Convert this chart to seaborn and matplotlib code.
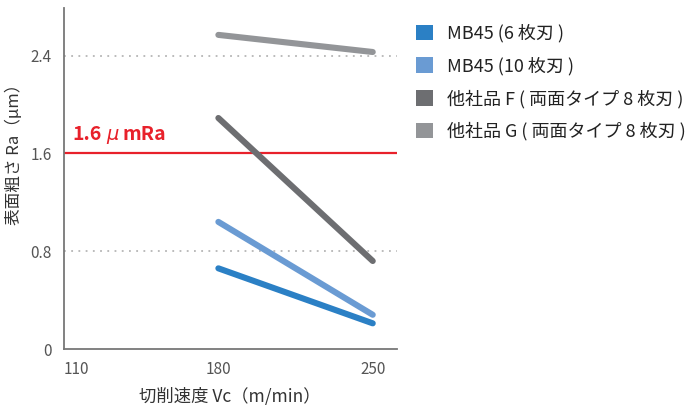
import matplotlib
matplotlib.use("Agg")
import matplotlib.pyplot as plt
import matplotlib.transforms as mtransforms
from matplotlib.patches import Patch
import seaborn as sns
import pandas as pd

# Cutting speed (m/min) and surface roughness Ra (μm) per tool
speeds = [180, 250]
series_names = [
    "MB45 (6 枚刃 )",
    "MB45 (10 枚刃 )",
    "他社品 F ( 両面タイプ 8 枚刃 )",
    "他社品 G ( 両面タイプ 8 枚刃 )",
]
ra_mb45_6 = [0.66, 0.21]
ra_mb45_10 = [1.04, 0.28]
ra_other_f = [1.89, 0.72]
ra_other_g = [2.57, 2.43]
series_colors = ["#2b80c5", "#6a9bd3", "#6d6e71", "#939598"]

y_ticks = [0, 0.8, 1.6, 2.4]
y_tick_labels = ["0", "0.8", "1.6", "2.4"]
x_ticks = [110, 180, 250]
limit_ra = 1.6
limit_parts = ["1.6", "μ", "mRa"]

sns.set_theme(style="white")
plt.rcParams["font.family"] = ["Noto Sans CJK JP", "DejaVu Sans"]

rows = []
for name, vals in zip(series_names, [ra_mb45_6, ra_mb45_10, ra_other_f, ra_other_g]):
    for s, v in zip(speeds, vals):
        rows.append({"Vc": s, "Ra": v, "tool": name})
df = pd.DataFrame(rows)

fig = plt.figure(figsize=(6.94, 4.05), dpi=100)
ax = fig.add_axes([64 / 694, 1 - 349 / 405, (397 - 64) / 694, (349 - 8) / 405])

# reference grid lines
for yv in [0.8, 2.4]:
    ax.axhline(yv, color="#b5b5b5", lw=1.3, ls=(0, (1, 3)), zorder=1)
ax.axhline(limit_ra, color="#e8212b", lw=1.6, zorder=2)

sns.lineplot(data=df, x="Vc", y="Ra", hue="tool", hue_order=series_names,
             palette=series_colors, lw=4.4, legend=False, ax=ax,
             solid_capstyle="round", zorder=3)

ax.set_xlim(110, 261)
ax.set_ylim(0, 2.79)
ax.set_xticks(x_ticks)
ax.set_xticklabels([str(t) for t in x_ticks])
ax.set_yticks(y_ticks)
ax.set_yticklabels(y_tick_labels)
ax.tick_params(axis="both", length=0, labelsize=11, labelcolor="#555555")
ax.tick_params(axis="y", pad=9)
ax.tick_params(axis="x", pad=9)
for lab in ax.get_xticklabels()[:1]:
    lab.set_horizontalalignment("left")

for side in ["top", "right"]:
    ax.spines[side].set_visible(False)
for side in ["left", "bottom"]:
    ax.spines[side].set_color("#777777")
    ax.spines[side].set_linewidth(1.3)

ax.set_xlabel("切削速度 Vc（m/min）", fontsize=12.5, color="#333333")
ax.xaxis.set_label_coords((230 - 64) / 333, -(387 - 349) / 341)
ax.set_ylabel("表面粗さ Ra（μm）", fontsize=12, color="#333333")
ax.yaxis.set_label_coords(-(64 - 23) / 333, (349 - 150) / 341)

# limit label: bold value, light italic μ, bold unit
renderer = fig.canvas.get_renderer()
styles = [dict(fontweight="bold"),
          dict(family="DejaVu Sans", fontweight="normal", fontstyle="italic"),
          dict(fontweight="bold")]
dx = 0.0
for part, st in zip(limit_parts, styles):
    tr = mtransforms.offset_copy(ax.transData, fig=fig, x=dx, y=0, units="dots")
    t = ax.text(114, limit_ra + 0.08, part, color="#e8212b", fontsize=14,
                ha="left", va="bottom", transform=tr, **st)
    dx += t.get_window_extent(renderer).width + 4

handles = [Patch(facecolor=c, edgecolor="none", label=n)
           for c, n in zip(series_colors, series_names)]
fig.legend(handles=handles, loc="upper left", bbox_to_anchor=(400 / 694, 1 - 8 / 405),
           frameon=False, fontsize=13, handlelength=0.95, handleheight=0.95,
           handletextpad=0.75, labelspacing=0.78, labelcolor="#222222")

fig.savefig("out.png", dpi=100)
